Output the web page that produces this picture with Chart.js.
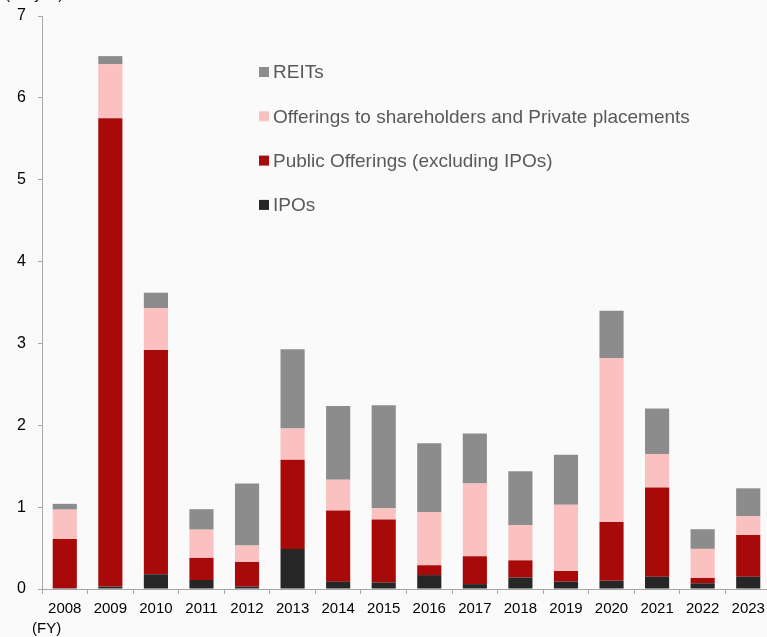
<!DOCTYPE html>
<html>
<head>
<meta charset="utf-8">
<script src="https://cdn.jsdelivr.net/npm/chart.js@4.4.1/dist/chart.umd.min.js"></script>
<style>
  html, body { margin: 0; padding: 0; background: #fafafa; overflow: hidden; }
  #wrap { width: 780px; height: 637px; position: relative; }
</style>
</head>
<body>
<div id="wrap"><canvas id="c" width="780" height="637"></canvas></div>
<script>
const years = ['2008','2009','2010','2011','2012','2013','2014','2015','2016','2017','2018','2019','2020','2021','2022','2023'];
const ipos = [0.01, 0.03, 0.18, 0.11, 0.03, 0.49, 0.09, 0.08, 0.17, 0.06, 0.14, 0.09, 0.10, 0.15, 0.07, 0.15];
const publicOfferings = [0.60, 5.72, 2.74, 0.27, 0.30, 1.09, 0.87, 0.77, 0.12, 0.34, 0.21, 0.13, 0.72, 1.09, 0.065, 0.51];
const privatePlacements = [0.36, 0.66, 0.51, 0.345, 0.20, 0.38, 0.375, 0.135, 0.65, 0.89, 0.43, 0.81, 2.00, 0.41, 0.355, 0.23];
const reits = [0.07, 0.10, 0.19, 0.25, 0.76, 0.97, 0.90, 1.26, 0.84, 0.61, 0.66, 0.61, 0.58, 0.555, 0.24, 0.34];
const yTicks = [0, 1, 2, 3, 4, 5, 6, 7];
const unitLabel = '(tril. yen)';
const fyLabel = '(FY)';

const legendPlugin = {
  id: 'customLegend',
  afterDraw(chart) {
    const ctx = chart.ctx;
    ctx.save();
    ctx.font = '19px "Liberation Sans", Arial, sans-serif';
    ctx.textBaseline = 'middle';
    const ds = chart.data.datasets.slice().reverse();
    ds.forEach((d, i) => {
      const y = 72 + i * 44.3;
      ctx.fillStyle = d.backgroundColor;
      ctx.fillRect(259, y - 5, 10, 10);
      ctx.fillStyle = '#595959';
      ctx.fillText(d.label, 273, y + 1);
    });
    ctx.font = '15px "Liberation Sans", Arial, sans-serif';
    ctx.fillStyle = '#000';
    ctx.textBaseline = 'middle';
    ctx.fillText(fyLabel, 32, 629);
    ctx.textBaseline = 'alphabetic';
    ctx.fillText(unitLabel, 5, -1);
    ctx.restore();
  }
};

new Chart(document.getElementById('c'), {
  type: 'bar',
  data: {
    labels: years,
    datasets: [
      { label: 'IPOs', data: ipos, backgroundColor: '#262626' },
      { label: 'Public Offerings (excluding IPOs)', data: publicOfferings, backgroundColor: '#a80a0a' },
      { label: 'Offerings to shareholders and Private placements', data: privatePlacements, backgroundColor: '#fbc0c0' },
      { label: 'REITs', data: reits, backgroundColor: '#8c8c8c' }
    ]
  },
  options: {
    responsive: false,
    animation: false,
    layout: { padding: { top: 16, right: 9, left: 0, bottom: 0 } },
    datasets: { bar: { categoryPercentage: 1, barPercentage: 0.53, borderWidth: 0 } },
    plugins: { legend: { display: false }, tooltip: { enabled: false } },
    scales: {
      x: {
        stacked: true,
        border: { color: '#a6a6a6', width: 1 },
        grid: { drawOnChartArea: false, drawTicks: true, tickLength: 5, color: '#a6a6a6', offset: true },
        ticks: { color: '#000', font: { size: 15, family: '"Liberation Sans", Arial, sans-serif' }, padding: 6, maxRotation: 0, autoSkip: false },
        afterFit(scale) { scale.height = 48; scale.paddingLeft = 0; scale.paddingRight = 0; }
      },
      y: {
        stacked: true,
        min: 0, max: 7,
        border: { color: '#a6a6a6', width: 1 },
        grid: { drawOnChartArea: false, drawTicks: true, tickLength: 4, color: '#a6a6a6' },
        afterBuildTicks(scale) { scale.ticks = yTicks.map(v => ({ value: v })); },
        ticks: { color: '#000', font: { size: 16, family: '"Liberation Sans", Arial, sans-serif' }, padding: 12 },
        afterFit(scale) { scale.width = 42; scale.paddingTop = 0; scale.paddingBottom = 0; }
      }
    }
  },
  plugins: [legendPlugin]
});
</script>
</body>
</html>
